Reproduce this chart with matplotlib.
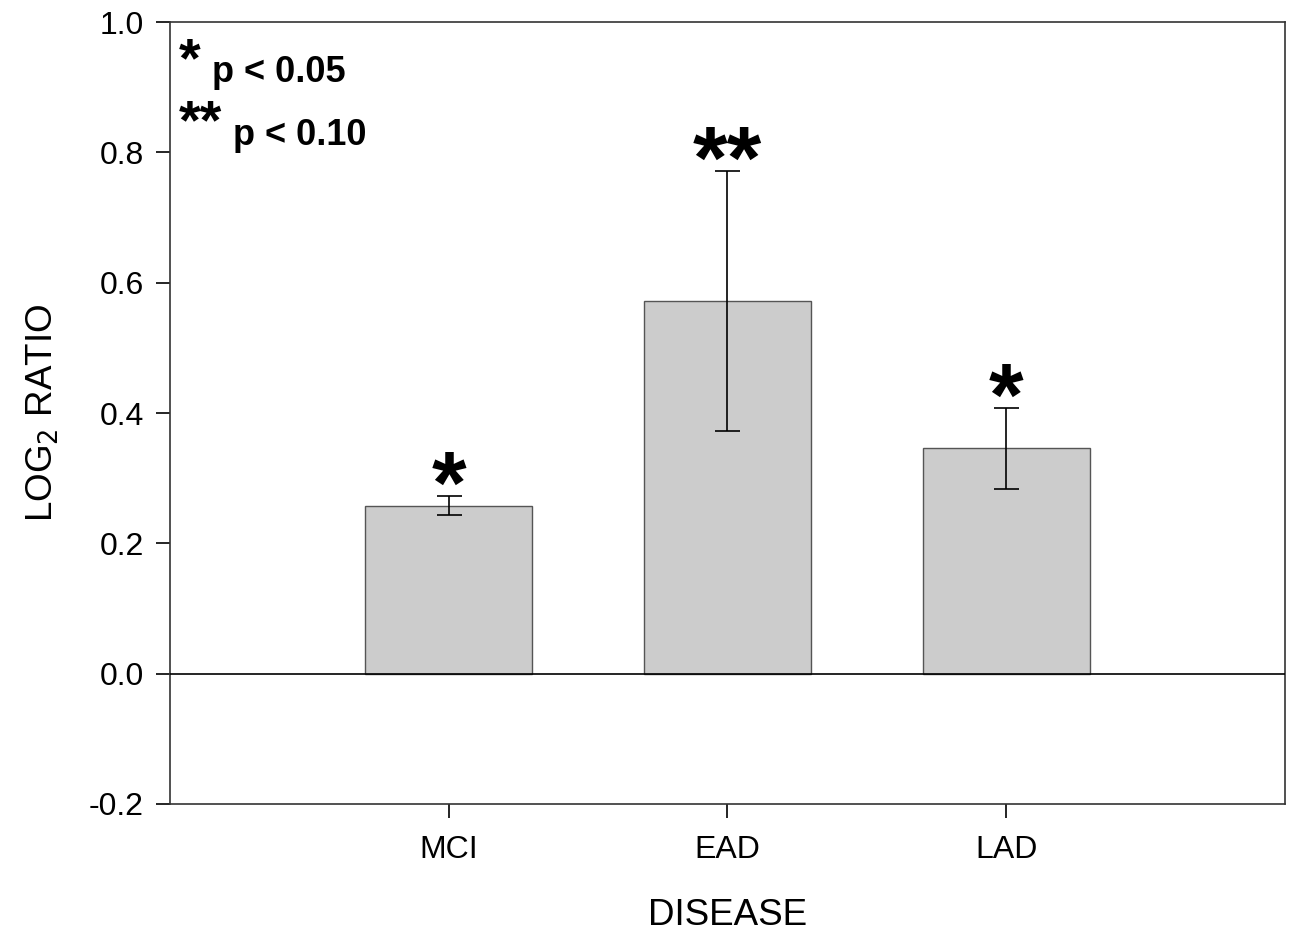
import matplotlib.pyplot as plt
import numpy as np

plt.rcParams["font.family"] = ["Liberation Sans", "DejaVu Sans"]

# data
groups = ["MCI", "EAD", "LAD"]
log2_ratio = [0.258, 0.572, 0.346]
sem = [0.015, 0.199, 0.062]
marks = ["*", "**", "*"]

x = np.arange(1, len(groups) + 1)

fig = plt.figure(figsize=(12.97, 9.34), dpi=100)
ax = fig.add_axes([0.1311, 0.1392, 0.8596, 0.8372])

ax.bar(x, log2_ratio, width=0.6, color="#cccccc", edgecolor="#555555", linewidth=1.0, zorder=2)
ax.errorbar(x, log2_ratio, yerr=sem, fmt="none", ecolor="black", elinewidth=1.2,
            capsize=9, capthick=1.2, zorder=3)
ax.axhline(0, color="black", linewidth=1.2, zorder=4)

# significance stars above the error bars
for xi, v, e, m in zip(x, log2_ratio, sem, marks):
    ax.annotate(m, (xi, v + e), xytext=(0, -12), textcoords="offset points",
                ha="center", va="baseline", fontsize=64, fontweight="bold")

# key in the upper left
tr = ax.transAxes
ax.text(0.008, 0.931, "*", transform=tr, fontsize=40, fontweight="bold", va="baseline")
ax.text(0.0377, 0.9233, "p < 0.05", transform=tr, fontsize=26, fontweight="bold", va="baseline")
ax.text(0.008, 0.851, "**", transform=tr, fontsize=40, fontweight="bold", va="baseline")
ax.text(0.0565, 0.8427, "p < 0.10", transform=tr, fontsize=26, fontweight="bold", va="baseline")

ax.set_xlim(0, 4)
ax.set_ylim(-0.2, 1.0)
ax.set_xticks(x)
ax.set_xticklabels(groups)
ax.set_yticks(np.arange(-0.2, 1.01, 0.2))
ax.set_yticklabels(["-0.2", "0.0", "0.2", "0.4", "0.6", "0.8", "1.0"])
ax.tick_params(axis="both", direction="out", length=10, width=1.2, labelsize=23, pad=9)
ax.tick_params(axis="x", pad=12)

for s in ax.spines.values():
    s.set_color("#333333")
    s.set_linewidth(1.2)

ax.set_xlabel("DISEASE", fontsize=26.5, labelpad=24)
ax.set_ylabel(r"LOG$_2$ RATIO", fontsize=26.5, labelpad=20)

fig.savefig("out.png", dpi=100)
